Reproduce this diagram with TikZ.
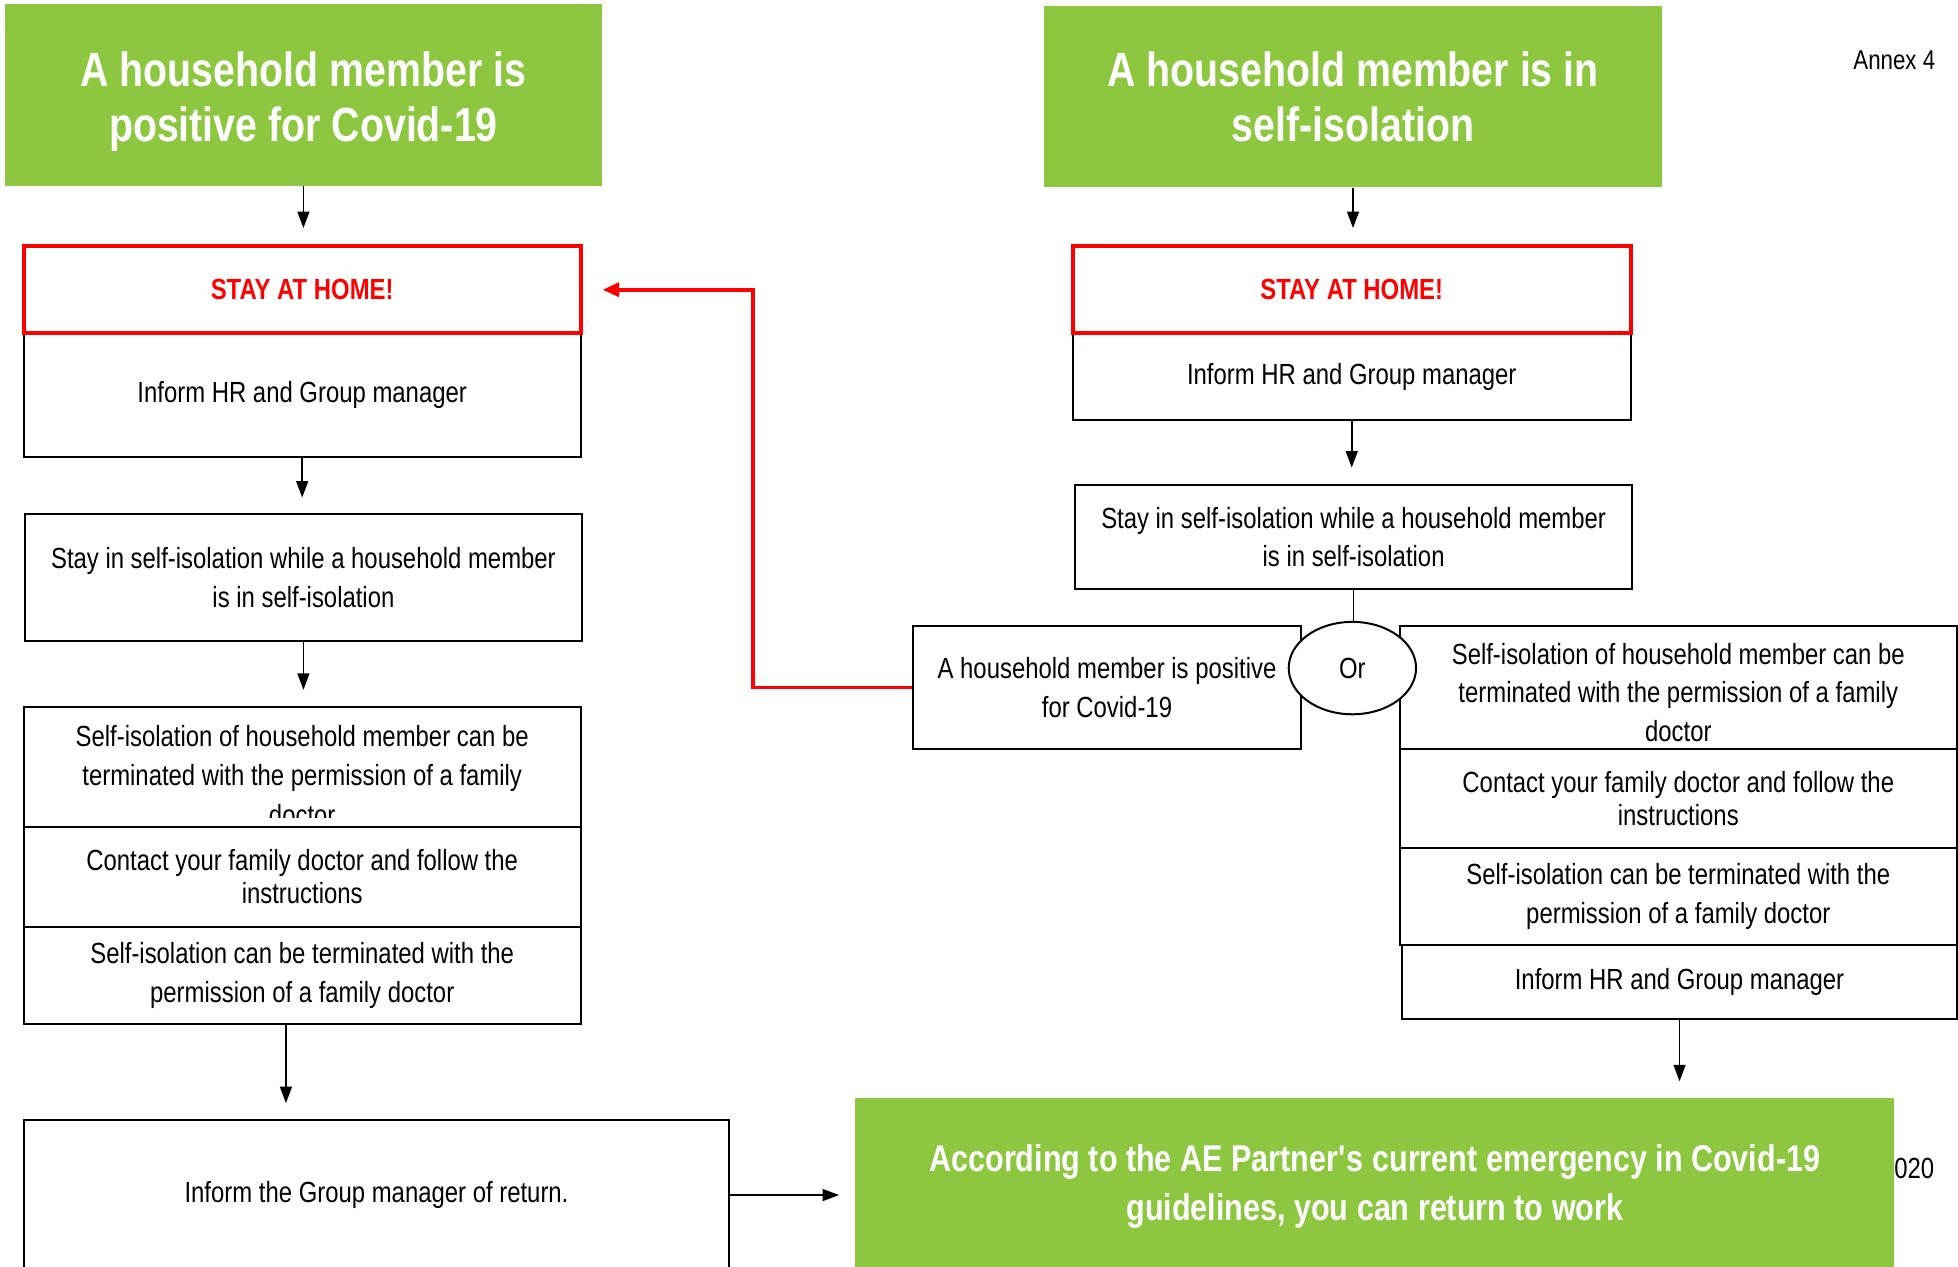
\documentclass[tikz,border=0pt]{standalone}
\usepackage{fontspec}
\setmainfont[FakeStretch=0.82]{Liberation Sans}
\usetikzlibrary{arrows.meta,shapes.geometric}
\definecolor{covgreen}{RGB}{141,198,63}
\definecolor{covred}{RGB}{255,0,0}

\begin{document}
\begin{tikzpicture}[x=0.25mm,y=-0.25mm,
	sz/.style 2 args={minimum width=#1*0.25mm, minimum height=#2*0.25mm},
	box/.style={draw, line width=0.4mm, fill=white, align=center, inner sep=0pt, font=\fontsize{16.6}{22}\selectfont},
	tight/.style={font=\fontsize{16.6}{19.2}\selectfont},
	head/.style={fill=covgreen, text=white, align=center, inner sep=0pt, font=\fontsize{27.3}{31.2}\selectfont\bfseries},
	redbox/.style={draw=covred, line width=0.8mm, text=covred, inner sep=0pt, font=\fontsize{16.6}{22}\selectfont\bfseries},
	flow/.style={-{Triangle[length=3.3mm,width=2.4mm]}, line width=0.3mm, shorten >=3.2mm}
]
\useasboundingbox (0,0) rectangle (1568,1014);
\clip (0,0) rectangle (1568,1014);

% left column
\node[head, sz={478}{146}] (posHead) at (243,76) {\rule{0pt}{9.5mm}A household member is\\positive for Covid-19};
\node[box, sz={446}{99}] (informL) at (242,316.5) {Inform HR and Group manager};
\node[redbox, sz={446}{70}] (stayL) at (242,232) {STAY AT HOME!};
\node[box, sz={446}{101}] (isoL) at (243,462.5) {Stay in self-isolation while a household member\\is in self-isolation};
\node[box, sz={446}{110}, font=\fontsize{16.6}{22.6}\selectfont] (termL) at (242,621) {Self-isolation of household member can be\\terminated with the permission of a family\\doctor};
\fill[white] (23,655) rectangle (461,662);
\node[box, tight, sz={446}{80}] (contactL) at (242,702) {Contact your family doctor and follow the\\instructions};
\node[box, sz={446}{78}] (endL) at (242,781) {Self-isolation can be terminated with the\\permission of a family doctor};
\node[box, sz={565}{120}] (returnL) at (301.5,957) {Inform the Group manager of return.};

% right column
\node[head, sz={495}{145}] (isoHead) at (1083.5,77.5) {A household member is in\\self-isolation};
\node[box, sz={447}{69}] (informR) at (1082.5,301.5) {Inform HR and Group manager};
\node[redbox, sz={447}{70}] (stayR) at (1082.5,232) {STAY AT HOME!};
\node[box, sz={446}{84}] (isoR) at (1084,430) {Stay in self-isolation while a household member\\is in self-isolation};
\node[box, sz={311}{99}] (posR) at (886.5,550.5) {A household member is positive\\for Covid-19};
\node[box, sz={446}{107}] (termR) at (1344,554.5) {Self-isolation of household member can be\\terminated with the permission of a family\\doctor};
\node[box, tight, sz={446}{79}] (contactR) at (1344,639.5) {Contact your family doctor and follow the\\instructions};
\node[box, sz={446}{78}] (endR) at (1344,718) {Self-isolation can be terminated with the\\permission of a family doctor};
\node[box, sz={444}{59}] (informRR) at (1345,786.5) {Inform HR and Group manager};
\node[box, ellipse, sz={102}{74}] (orNode) at (1083,535) {Or};

\node[head, sz={832}{136}, font=\fontsize{21.2}{27.6}\selectfont\bfseries] (backG) at (1101,947) {\rule{0pt}{7mm}According to the AE Partner\textquotesingle s current emergency in Covid-19\\guidelines, you can return to work};

\node[font=\fontsize{15.5}{18}\selectfont] (annex) at (1517,48) {Annex 4};
\node[font=\fontsize{16.6}{20}\selectfont] (year) at (1533,936) {020};

% connectors
\foreach \u/\v in {
posHead/stayL%
,informL/isoL%
,isoL/termL%
,isoHead/stayR%
,informR/isoR%
,informRR/backG%
}{
	\draw[flow] (\u.south) -- (\u.south |- \v.north);
}
\draw[line width=0.3mm] (isoR.south) -- (isoR.south |- orNode.north);
\draw[flow] ([xshift=-3.25mm]endL.south) -- ([xshift=-3.25mm]endL.south |- returnL.north);
\draw[flow] (returnL.east) -- (returnL.east -| backG.west);
\draw[covred, line width=0.75mm, -{Triangle[length=3.3mm,width=2.8mm]}, shorten >=4mm] (posR.west) -- ++(-127,0) |- (stayL.east);

\end{tikzpicture}
\end{document}
